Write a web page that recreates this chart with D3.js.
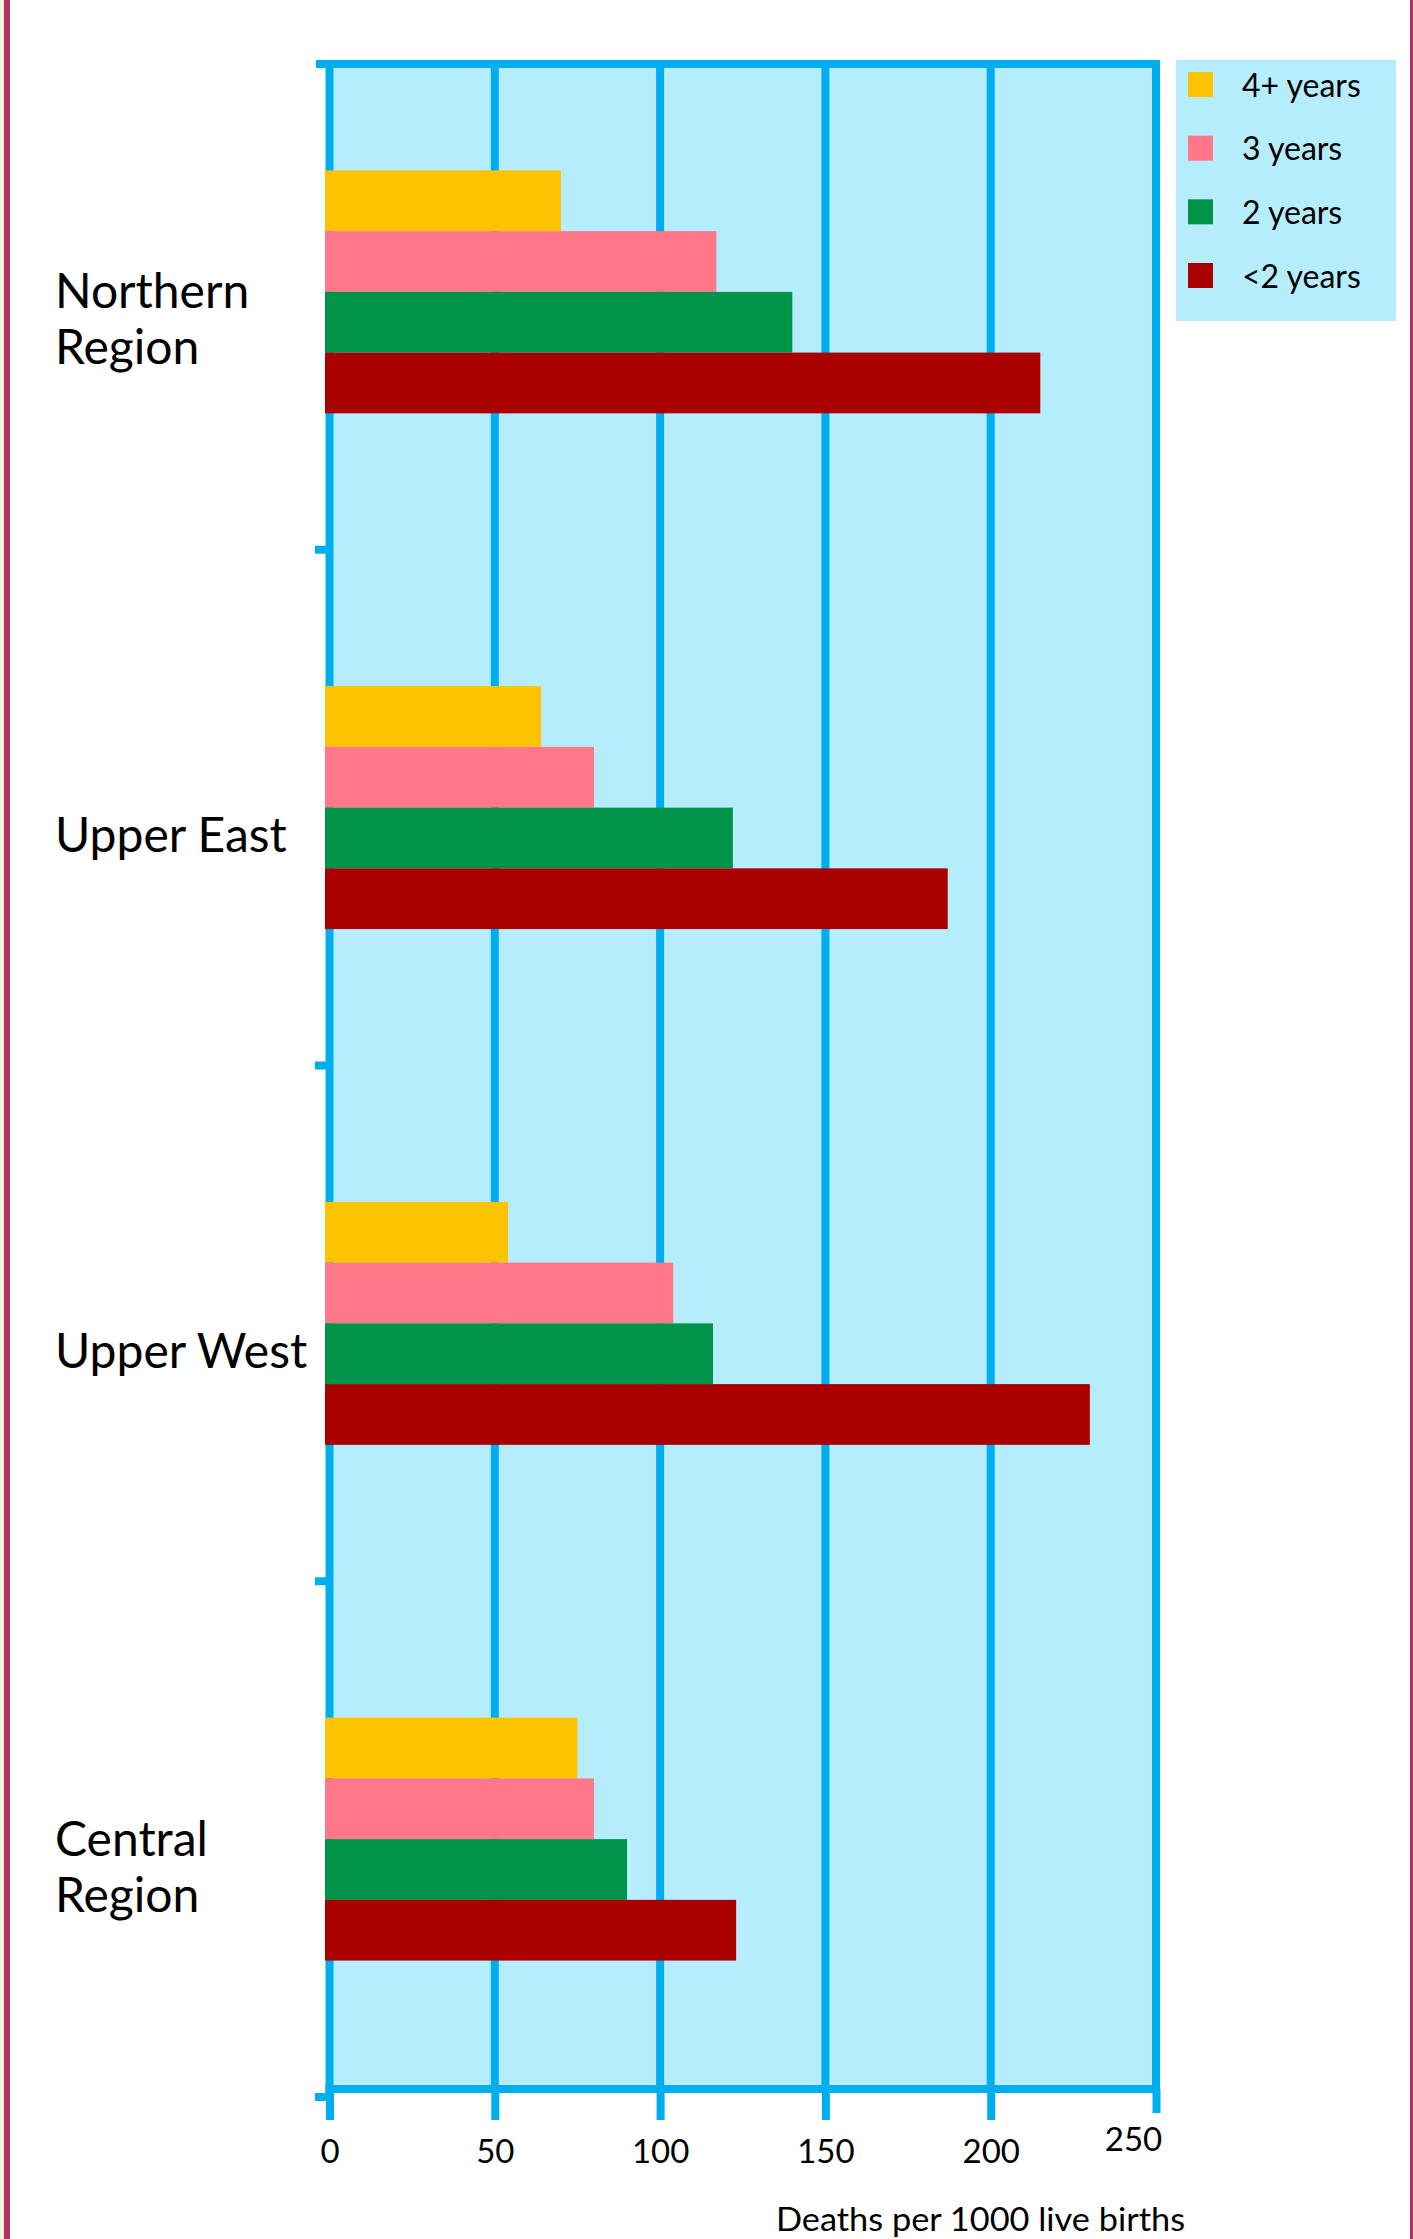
<!DOCTYPE html>
<html>
<head>
<meta charset="utf-8">
<script src="https://cdn.jsdelivr.net/npm/d3@7"></script>
<style>
  html, body { margin: 0; padding: 0; background: #ffffff; }
  svg { display: block; }
  text { font-family: Lato, "Open Sans", sans-serif; fill: #000; }
</style>
</head>
<body>
<svg id="chart" width="1413" height="2239"></svg>
<script>
// ---- Data ----
const regions = ["Northern Region", "Upper East", "Upper West", "Central Region"];
const regionLabels = [["Northern", "Region"], ["Upper East"], ["Upper West"], ["Central", "Region"]];
const seriesNames = ["4+ years", "3 years", "2 years", "<2 years"];
const fourPlusYears = [70, 64, 54, 75];
const threeYears = [117, 80, 104, 80];
const twoYears = [140, 122, 116, 90];
const underTwoYears = [215, 187, 230, 123];
const xTickValues = [0, 50, 100, 150, 200, 250];
const xAxisTitle = "Deaths per 1000 live births";

const seriesValues = [fourPlusYears, threeYears, twoYears, underTwoYears];
const seriesColors = ["#FDC300", "#FF7788", "#009448", "#AA0000"];

// ---- Layout ----
const svg = d3.select("#chart");
const plotLeft = 329.5, plotRight = 1156, plotTop = 64, plotBottom = 2089;
const blue = "#00AEEF", plotBg = "#B6EDFD";
const lineW = 8;

const x = d3.scaleLinear().domain([0, 250]).range([plotLeft, plotRight]);
const y = d3.scaleBand().domain(regions).range([34, 2097])
  .paddingInner(0.529).paddingOuter(0.2645);
const ySub = d3.scaleBand().domain(seriesNames).range([0, y.bandwidth()]).padding(0);
const color = d3.scaleOrdinal().domain(seriesNames).range(seriesColors);

// page borders
svg.append("rect").attr("x", 0).attr("y", 0).attr("width", 4).attr("height", 2239).attr("fill", "#FAF0E0");
svg.append("rect").attr("x", 4).attr("y", 0).attr("width", 6).attr("height", 2239).attr("fill", "#B0345F");
svg.append("rect").attr("x", 1410).attr("y", 0).attr("width", 3).attr("height", 2239).attr("fill", "#B0345F");

// plot background
svg.append("rect")
  .attr("x", plotLeft).attr("y", plotTop)
  .attr("width", plotRight - plotLeft).attr("height", plotBottom - plotTop)
  .attr("fill", plotBg);

// gridlines
svg.append("g").selectAll("line")
  .data(xTickValues.filter(v => v > 0 && v < 250))
  .join("line")
  .attr("x1", d => x(d)).attr("x2", d => x(d))
  .attr("y1", plotTop).attr("y2", plotBottom)
  .attr("stroke", blue).attr("stroke-width", lineW);

// bottom x axis ticks
const xAxis = d3.axisBottom(x).tickValues(xTickValues).tickSize(31).tickSizeOuter(0).tickFormat(d3.format("d"));
const gx = svg.append("g").attr("transform", `translate(0,${plotBottom})`).call(xAxis);
gx.select(".domain").remove();
gx.selectAll(".tick line").attr("stroke", blue).attr("stroke-width", lineW);
gx.selectAll(".tick text")
  .attr("y", 74).attr("dy", 0)
  .style("font-size", "33px").style("font-family", "Lato, sans-serif").attr("fill", "#000");
gx.selectAll(".tick").filter(d => d === 250).select("line").attr("y2", 24);
gx.selectAll(".tick").filter(d => d === 250).select("text").attr("dx", -23).attr("y", 62);

// frame
svg.append("line").attr("x1", 316).attr("x2", plotRight + 4).attr("y1", plotTop).attr("y2", plotTop)
  .attr("stroke", blue).attr("stroke-width", lineW);
svg.append("line").attr("x1", plotLeft).attr("x2", plotLeft).attr("y1", plotTop - 4).attr("y2", plotBottom + 4)
  .attr("stroke", blue).attr("stroke-width", lineW);
svg.append("line").attr("x1", plotRight).attr("x2", plotRight).attr("y1", plotTop - 4).attr("y2", plotBottom + 4)
  .attr("stroke", blue).attr("stroke-width", lineW);
svg.append("line").attr("x1", plotLeft - 4).attr("x2", plotRight + 4).attr("y1", plotBottom).attr("y2", plotBottom)
  .attr("stroke", blue).attr("stroke-width", lineW);

// y-axis ticks at band boundaries
const step = y.step();
const boundaries = regions.map((r, i) => y.range()[0] + step * (i + 1));
svg.append("g").selectAll("line")
  .data(boundaries)
  .join("line")
  .attr("x1", 315).attr("x2", plotLeft)
  .attr("y1", d => d).attr("y2", d => d)
  .attr("stroke", blue).attr("stroke-width", lineW);

// bars (drawn over the axis line, as in the original)
const groups = svg.append("g").selectAll("g")
  .data(regions)
  .join("g")
  .attr("transform", d => `translate(0,${y(d)})`);
groups.selectAll("rect")
  .data((d, i) => seriesNames.map((s, j) => ({ s, v: seriesValues[j][i] })))
  .join("rect")
  .attr("x", x(0) - 4.5)
  .attr("y", d => ySub(d.s))
  .attr("width", d => x(d.v) - x(0) + 4.5)
  .attr("height", ySub.bandwidth())
  .attr("fill", d => color(d.s));

// region labels
const lineH = 56;
svg.append("g").selectAll("text")
  .data(regions)
  .join("text")
  .attr("x", 55)
  .style("font-size", "48px")
  .each(function (d, i) {
    const lines = regionLabels[i];
    const c = y(d) + y.bandwidth() / 2 + 27;
    const first = c - ((lines.length - 1) * lineH + 35) / 2 + 35;
    d3.select(this).selectAll("tspan")
      .data(lines)
      .join("tspan")
      .attr("x", 55)
      .attr("y", (t, k) => first + k * lineH)
      .text(t => t);
  });

// x axis title
svg.append("text")
  .attr("x", 776).attr("y", 2231)
  .style("font-size", "33px")
  .attr("textLength", 409).attr("lengthAdjust", "spacingAndGlyphs")
  .text(xAxisTitle);

// legend
const legend = svg.append("g");
legend.append("rect").attr("x", 1176).attr("y", 60).attr("width", 220).attr("height", 261).attr("fill", plotBg);
const legendY = d3.scalePoint().domain(seriesNames).range([84.5, 275.5]);
const items = legend.selectAll("g.item").data(seriesNames).join("g").attr("class", "item");
items.append("rect")
  .attr("x", 1188).attr("y", d => legendY(d) - 12.5)
  .attr("width", 25).attr("height", 25)
  .attr("fill", d => color(d));
items.append("text")
  .attr("x", 1242).attr("y", d => legendY(d) + 12)
  .style("font-size", "32px")
  .text(d => d);
</script>
</body>
</html>
